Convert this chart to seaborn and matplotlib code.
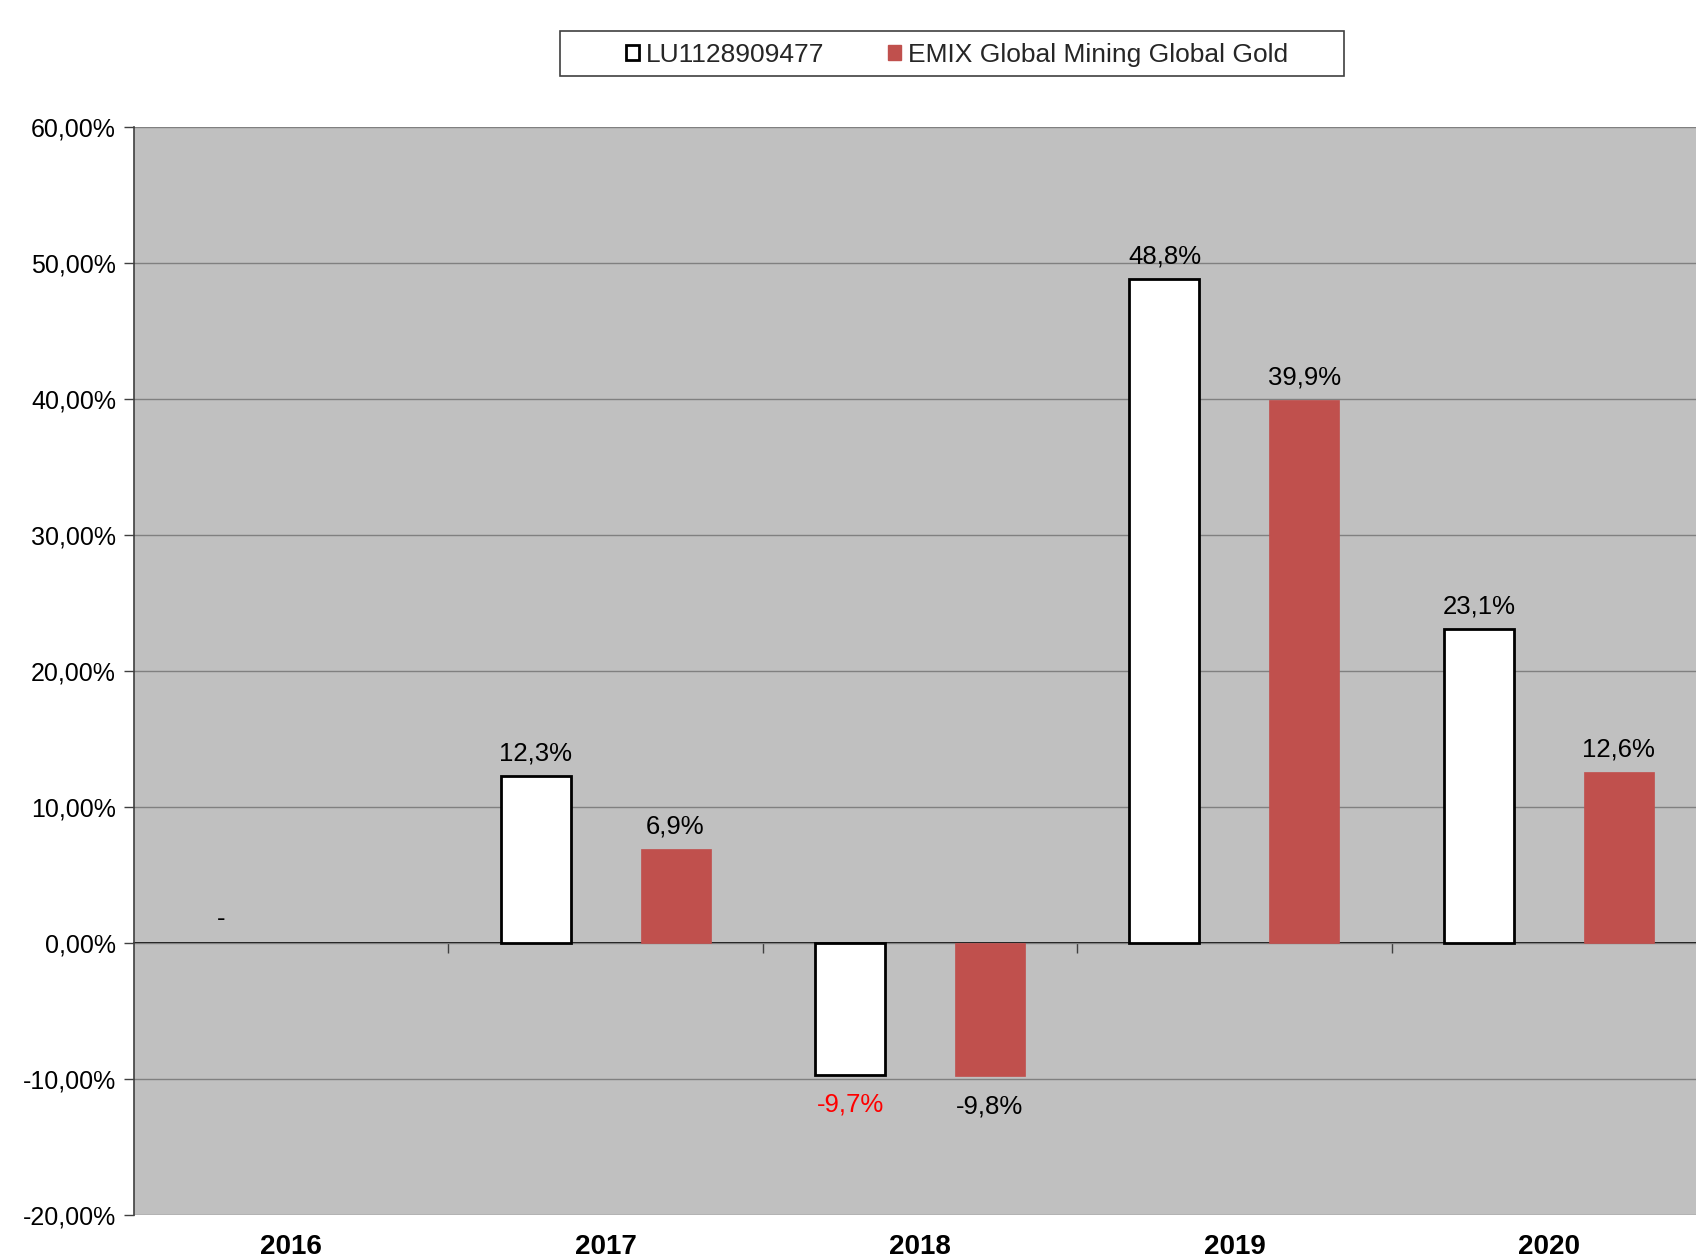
import matplotlib
matplotlib.use("Agg")
import matplotlib.pyplot as plt
from matplotlib.patches import Patch, Rectangle
import seaborn as sns
import pandas as pd
import numpy as np

years = ["2016", "2017", "2018", "2019", "2020"]
series_names = ["LU1128909477", "EMIX Global Mining Global Gold"]
fund_values = [np.nan, 12.3, -9.7, 48.8, 23.1]
index_values = [np.nan, 6.9, -9.8, 39.9, 12.6]
yticks = [-20, -10, 0, 10, 20, 30, 40, 50, 60]

sns.set_theme(style="white")
plt.rcParams["font.family"] = ["Liberation Sans", "DejaVu Sans"]

df = pd.DataFrame({
    "year": years * 2,
    "series": [series_names[0]] * 5 + [series_names[1]] * 5,
    "value": fund_values + index_values,
})

fig = plt.figure(figsize=(16.96, 12.58), dpi=100)
W, H = 1696, 1258
ax = fig.add_axes([134 / W, 1 - 1215 / H, 1572 / W, (1215 - 127) / H])
ax.set_facecolor("#C0C0C0")

palette = {series_names[0]: "#FFFFFF", series_names[1]: "#C0504D"}
sns.barplot(data=df, x="year", y="value", hue="series", order=years,
            hue_order=series_names, palette=palette, saturation=1,
            width=0.89, gap=0.5, legend=False, ax=ax, zorder=3)

ax.set_ylim(-20, 60)
ax.set_xlim(-0.5, 4.5)
ax.set_yticks(yticks)
ax.set_yticklabels([f"{v:.2f}%".replace(".", ",") for v in yticks], fontsize=18, color="black")
ax.yaxis.grid(True, color="#808080", linewidth=1)
ax.set_axisbelow(True)
ax.tick_params(axis="y", direction="out", length=7, width=1, color="#404040", pad=6, left=True)
ax.tick_params(axis="x", length=0, pad=14)
for lab in ax.get_xticklabels():
    lab.set_fontweight("bold")
    lab.set_fontsize(20)
    lab.set_color("black")
ax.set_xlabel("")
ax.set_ylabel("")
for s in ["top", "right", "bottom"]:
    ax.spines[s].set_visible(False)
ax.spines["left"].set_color("#404040")
ax.spines["left"].set_linewidth(1.2)

# zero axis with category boundary ticks
zero_frac = (0 - (-20)) / (60 - (-20))
sec = ax.secondary_xaxis(zero_frac)
sec.set_xticks([0.5, 1.5, 2.5, 3.5])
sec.set_xticklabels([])
sec.tick_params(direction="out", length=7, width=1, color="#404040")
sec.spines["bottom"].set_color("black")
sec.spines["bottom"].set_linewidth(1.3)

# style bars and labels
for ci, cont in enumerate(ax.containers):
    for bar in cont:
        h = bar.get_height()
        if np.isnan(h):
            continue
        if ci == 0:
            bar.set_edgecolor("black")
            bar.set_linewidth(2)
        else:
            bar.set_edgecolor("#C0504D")
            bar.set_linewidth(0.5)
        xc = bar.get_x() + bar.get_width() / 2
        txt = f"{h:.1f}%".replace(".", ",")
        if h >= 0:
            ax.annotate(txt, (xc, h), xytext=(0, 7.5), textcoords="offset points",
                        ha="center", va="bottom", fontsize=18.5, color="black")
        else:
            col = "#FF0000" if ci == 0 else "black"
            ax.annotate(txt, (xc, h), xytext=(0, -13), textcoords="offset points",
                        ha="center", va="top", fontsize=18.5, color=col)

# missing 2016 value marker
ax.annotate("-", (0 - 0.222, 0), xytext=(0, 9), textcoords="offset points",
            ha="center", va="bottom", fontsize=18.5, color="black")

# legend
handles = [Patch(facecolor="white", edgecolor="black", linewidth=2, label=series_names[0]),
           Patch(facecolor="#C0504D", edgecolor="#C0504D", label=series_names[1])]
leg = fig.legend(handles=handles, loc="center", bbox_to_anchor=(957 / W, 1 - 55 / H),
                 ncol=2, frameon=False, fontsize=19, handlelength=0.5, handleheight=0.5,
                 handletextpad=0.25, columnspacing=2.4)
fig.patches.append(Rectangle((560 / W, 1 - 76 / H), (1344 - 560) / W, 45 / H,
                             transform=fig.transFigure, facecolor="white",
                             edgecolor="#404040", linewidth=1.2, zorder=0))

fig.savefig("out.png", dpi=100)
